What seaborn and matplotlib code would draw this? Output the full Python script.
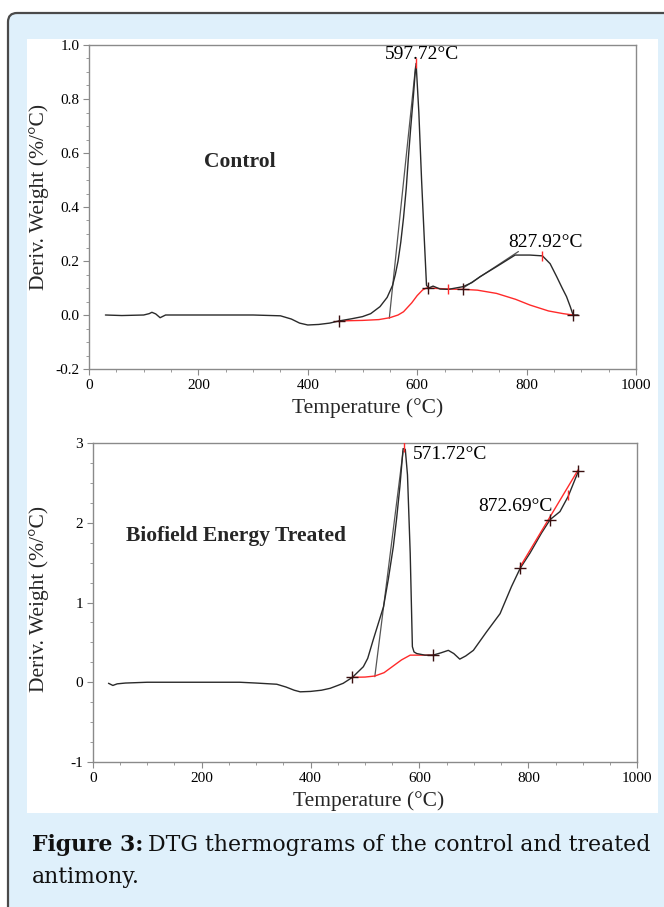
"""
DTG thermograms of control and biofield energy treated antimony.
"""

import matplotlib
matplotlib.use('Agg')
import matplotlib.pyplot as plt
from matplotlib.patches import FancyBboxPatch, Rectangle
from matplotlib.ticker import MultipleLocator, FormatStrFormatter
import seaborn as sns

# ---- control sample ----
ctrl_temp = [30, 60, 100, 110, 115, 122, 130, 140, 200, 300, 350, 370, 385, 400,
             420, 440, 457, 480, 500, 515, 532, 545, 555, 560, 565, 570, 575, 580,
             584, 588, 593, 596, 598, 603, 608, 613, 617, 621, 629, 642, 657, 684,
             700, 715, 745, 779, 806, 829, 843, 855, 865, 873, 880, 885, 894]
ctrl_dtg = [0.0, -0.002, 0.0, 0.005, 0.01, 0.004, -0.01, 0.0, 0.0, 0.0, -0.003,
            -0.015, -0.03, -0.037, -0.035, -0.03, -0.022, -0.014, -0.006, 0.005,
            0.031, 0.065, 0.11, 0.15, 0.2, 0.27, 0.36, 0.47, 0.586, 0.69, 0.81,
            0.89, 0.932, 0.75, 0.5, 0.28, 0.11, 0.10, 0.107, 0.096, 0.095, 0.105,
            0.12, 0.142, 0.179, 0.222, 0.222, 0.219, 0.19, 0.142, 0.1, 0.068, 0.03,
            0.0, 0.0]
ctrl_base_temp = [457, 500, 530, 550, 565, 575, 590, 600, 610, 617, 640, 660, 684,
                  710, 745, 780, 806, 840, 867, 885]
ctrl_base_dtg = [-0.022, -0.02, -0.017, -0.01, 0.0, 0.012, 0.045, 0.072, 0.093, 0.10,
                 0.098, 0.096, 0.095, 0.092, 0.08, 0.058, 0.037, 0.015, 0.005, 0.0]
ctrl_tangents = [([549, 597], [-0.012, 0.92]), ([684, 785], [0.10, 0.235])]
ctrl_cross_t = [457, 620, 684, 885]
ctrl_cross_y = [-0.022, 0.10, 0.098, 0.0]
ctrl_tick_t = [598, 657, 828]
ctrl_tick_y = [0.932, 0.095, 0.22]
ctrl_peaks = [('597.72°C', 609, 0.963, 'center'), ('827.92°C', 834, 0.267, 'center')]

# ---- treated sample ----
trt_temp = [29, 37, 45, 60, 100, 200, 270, 300, 338, 355, 370, 381, 400, 420, 436,
            450, 460, 477, 497, 505, 515, 525, 534, 543, 552, 558, 564, 570, 574,
            578, 583, 587, 590, 595, 610, 625, 640, 653, 663, 674, 685, 699, 723,
            748, 769, 785, 803, 824, 840, 858, 873, 892]
trt_dtg = [-0.013, -0.04, -0.02, -0.01, 0.0, 0.0, 0.0, -0.01, -0.025, -0.06, -0.1,
           -0.12, -0.115, -0.1, -0.076, -0.04, -0.013, 0.062, 0.195, 0.3, 0.53,
           0.75, 0.947, 1.3, 1.70, 2.05, 2.45, 2.93, 2.92, 2.6, 1.62, 0.446, 0.38,
           0.36, 0.34, 0.34, 0.37, 0.40, 0.36, 0.29, 0.33, 0.40, 0.63, 0.86, 1.20,
           1.43, 1.62, 1.87, 2.04, 2.14, 2.33, 2.65]
trt_base_temp = [477, 500, 518, 535, 546, 567, 583, 625]
trt_base_dtg = [0.062, 0.065, 0.078, 0.12, 0.175, 0.28, 0.34, 0.34]
trt_fit_temp = [785, 892]
trt_fit_dtg = [1.45, 2.67]
trt_tangents = [([518, 570], [0.07, 2.9])]
trt_cross_t = [477, 625, 785, 840, 892]
trt_cross_y = [0.062, 0.34, 1.43, 2.04, 2.65]
trt_tick_t = [571, 873]
trt_tick_y = [2.95, 2.35]
trt_peaks = [('571.72°C', 588, 2.85, 'left'), ('872.69°C', 776, 2.2, 'center')]

CURVE = '#2a2a2a'
RED = '#ff2a2a'
SPINE = '#8a8a8a'

sns.set_style('ticks')
plt.rcParams['font.family'] = ['Liberation Serif', 'DejaVu Serif']
plt.rcParams['axes.unicode_minus'] = False

fig = plt.figure(figsize=(6.64, 9.07), dpi=100)
fig.patch.set_facecolor('white')

# page background (pixel coordinates)
bg = fig.add_axes([0, 0, 1, 1], zorder=-5)
bg.set_xlim(0, 664)
bg.set_ylim(907, 0)
bg.axis('off')
bg.add_patch(FancyBboxPatch((8, 13), 720, 960, boxstyle='round,pad=0,rounding_size=9',
                            facecolor='#dff0fb', edgecolor='#4a4a4a', lw=1.6))
bg.add_patch(Rectangle((27, 39), 631, 774, facecolor='white', edgecolor='none'))


def draw_panel(ax, temp, dtg, base_t, base_y, tangents, cross_t, cross_y,
               tick_t, tick_y, peaks):
    for tx, ty in tangents:
        sns.lineplot(x=tx, y=ty, ax=ax, color='#555555', lw=0.9, sort=False,
                     estimator=None)
    sns.lineplot(x=base_t, y=base_y, ax=ax, color=RED, lw=1.0, sort=False,
                 estimator=None)
    sns.lineplot(x=temp, y=dtg, ax=ax, color=CURVE, lw=1.0, sort=False,
                 estimator=None)
    sns.scatterplot(x=cross_t, y=cross_y, ax=ax, marker='+', s=70, color='#3a1010',
                    linewidth=1.0, zorder=5)
    sns.scatterplot(x=tick_t, y=tick_y, ax=ax, marker='|', s=60, color=RED,
                    linewidth=1.0, zorder=5)
    for label, x, y, ha in peaks:
        ax.text(x, y, label, ha=ha, va='center', fontsize=14, color='black')
    ax.set_xlim(0, 1000)
    ax.xaxis.set_major_locator(MultipleLocator(200))
    ax.xaxis.set_minor_locator(MultipleLocator(50))
    for s in ax.spines.values():
        s.set_color(SPINE)
        s.set_linewidth(1.0)
    ax.tick_params(which='both', direction='out', color=SPINE, labelsize=11,
                   labelcolor='black', pad=3)
    ax.tick_params(which='major', length=4)
    ax.tick_params(which='minor', length=2.5)
    ax.set_xlabel('Temperature (°C)', fontsize=15.5)
    ax.set_ylabel('Deriv. Weight (%/°C)', fontsize=15.5)


# top: control
ax1 = fig.add_axes([89 / 664, 1 - 369 / 907, 547 / 664, 324 / 907])
draw_panel(ax1, ctrl_temp, ctrl_dtg, ctrl_base_temp, ctrl_base_dtg, ctrl_tangents,
           ctrl_cross_t, ctrl_cross_y, ctrl_tick_t, ctrl_tick_y, ctrl_peaks)
ax1.set_ylim(-0.2, 1.0)
ax1.yaxis.set_major_locator(MultipleLocator(0.2))
ax1.yaxis.set_minor_locator(MultipleLocator(0.05))
ax1.yaxis.set_major_formatter(FormatStrFormatter('%.1f'))
ax1.text(276, 0.567, 'Control', ha='center', va='center', fontsize=15.5,
         fontweight='bold')
ax1.xaxis.set_label_coords(0.51, -0.09)
ax1.yaxis.set_label_coords(-0.074, 0.53)

# bottom: treated
ax2 = fig.add_axes([92.7 / 664, 1 - 762 / 907, 544.6 / 664, 319 / 907])
draw_panel(ax2, trt_temp, trt_dtg, trt_base_temp, trt_base_dtg, trt_tangents,
           trt_cross_t, trt_cross_y, trt_tick_t, trt_tick_y, trt_peaks)
sns.lineplot(x=trt_fit_temp, y=trt_fit_dtg, ax=ax2, color=RED, lw=1.0, sort=False,
             estimator=None)
ax2.set_ylim(-1, 3)
ax2.yaxis.set_major_locator(MultipleLocator(1))
ax2.yaxis.set_minor_locator(MultipleLocator(0.25))
ax2.yaxis.set_major_formatter(FormatStrFormatter('%d'))
ax2.text(263, 1.83, 'Biofield Energy Treated', ha='center', va='center',
         fontsize=15.5, fontweight='bold')
ax2.xaxis.set_label_coords(0.506, -0.09)
ax2.yaxis.set_label_coords(-0.08, 0.51)

# caption
cap_font = ['DejaVu Serif']
cap_size = 15.8
cap_x = 32 / 664
t1 = fig.text(cap_x, 1 - 851 / 907, 'Figure 3:', fontsize=cap_size, fontweight='bold',
              va='baseline', ha='left', family=cap_font, color='#111111')
renderer = fig.canvas.get_renderer()
w = t1.get_window_extent(renderer).width
fig.text(cap_x + (w + 5) / 664, 1 - 851 / 907,
         'DTG thermograms of the control and treated', fontsize=cap_size,
         va='baseline', ha='left', family=cap_font, color='#111111')
fig.text(cap_x, 1 - 883 / 907, 'antimony.', fontsize=cap_size, va='baseline',
         ha='left', family=cap_font, color='#111111')

fig.savefig('out.png', dpi=100)
plt.close(fig)
